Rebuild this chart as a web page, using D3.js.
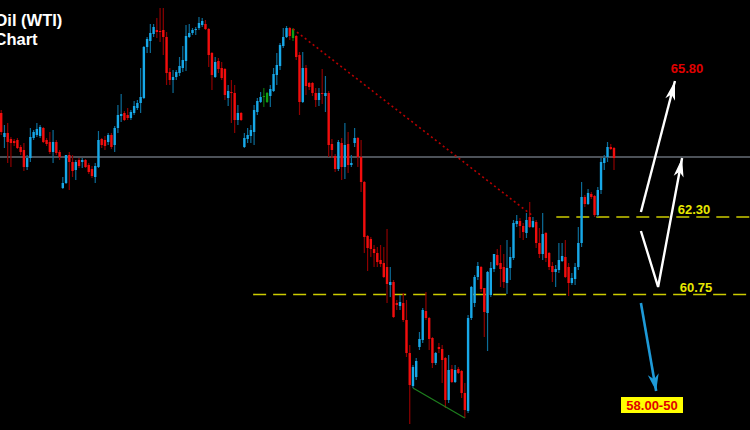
<!DOCTYPE html>
<html><head><meta charset="utf-8">
<script src="https://cdn.jsdelivr.net/npm/d3@7"></script>
<style>html,body{margin:0;padding:0;background:#000;overflow:hidden}</style>
</head><body><svg id="c" width="750" height="430"></svg>
<script>
const opens = [64.38,63.90,63.98,63.86,63.82,63.84,63.70,63.64,63.30,63.48,
63.88,63.94,63.92,64.08,63.84,63.80,63.60,63.80,63.60,62.88,
62.98,63.54,63.40,63.24,63.44,63.40,63.44,63.34,63.26,63.10,
63.30,63.86,63.84,63.80,63.94,63.74,64.08,64.32,64.38,64.34,
64.28,64.38,64.48,64.58,64.68,65.70,65.82,65.96,66.04,66.02,
66.04,65.90,65.20,65.04,65.10,65.18,65.28,65.42,65.90,65.98,
66.04,66.08,66.14,66.16,66.06,65.58,65.10,65.42,65.28,65.26,
64.68,64.80,64.78,64.24,64.38,63.70,63.86,63.92,64.00,64.40,
64.60,64.70,64.60,64.72,64.82,65.14,65.32,65.72,65.90,66.08,
65.88,65.92,65.54,64.60,65.28,64.98,64.98,64.78,64.64,64.78,
64.72,64.78,63.76,63.52,63.26,63.78,63.30,63.76,63.34,63.78,
63.88,63.50,63.00,61.92,61.86,61.66,61.58,61.44,61.38,61.30,
60.94,61.00,60.58,60.52,60.58,60.24,59.58,58.92,59.10,59.70,
59.84,60.42,60.28,59.88,59.38,59.70,59.66,59.48,58.64,59.26,
59.00,59.26,59.22,58.78,58.42,60.28,60.58,61.10,61.30,60.88,
60.38,60.74,61.26,61.54,61.38,61.30,60.98,61.28,61.48,62.16,
62.22,62.12,61.98,62.30,62.10,62.20,61.78,61.56,61.98,61.58,
61.32,61.20,61.24,61.42,61.50,61.30,60.98,61.06,61.30,61.78,
62.70,62.56,62.76,62.72,62.34,62.84,63.38,63.50,63.70,63.68];
const highs = [64.44,64.14,64.18,63.90,63.86,63.88,63.74,63.78,63.54,64.08,
64.04,64.18,64.14,64.10,63.88,64.00,64.04,63.84,63.64,63.10,
63.54,63.60,63.54,63.44,63.48,63.48,63.46,63.38,63.32,63.38,
64.02,63.88,63.92,63.98,63.98,64.12,64.54,64.76,64.42,64.48,
64.44,64.62,64.64,65.28,65.72,65.90,66.16,66.16,66.28,66.48,
66.48,66.00,65.28,65.24,65.24,65.50,65.72,66.14,66.16,66.08,
66.10,66.30,66.28,66.24,66.08,65.60,65.50,65.48,65.40,65.28,
64.94,65.04,64.94,64.54,64.40,63.98,64.08,64.14,64.54,64.68,
64.80,64.88,64.80,64.94,65.28,65.58,65.78,66.08,66.12,66.10,
66.08,65.94,65.60,65.60,65.34,65.00,65.00,64.88,64.88,65.26,
65.12,64.82,63.86,63.56,63.84,63.88,64.18,64.00,63.54,64.08,
63.90,63.84,63.02,61.94,61.90,61.74,61.70,61.74,61.70,62.06,
61.30,61.04,60.64,60.74,60.78,60.64,59.74,59.34,59.48,60.00,
60.48,60.80,60.30,59.90,59.60,59.78,59.74,59.50,59.54,59.34,
59.34,59.30,59.24,58.98,60.34,60.92,61.14,61.40,61.32,60.88,
61.22,61.40,61.56,61.66,61.74,61.56,61.84,61.70,62.24,62.34,
62.28,62.18,62.38,62.60,62.30,62.24,62.08,62.38,62.00,61.60,
61.40,61.34,61.78,61.78,61.84,61.38,61.18,61.38,62.10,63.00,
62.74,62.86,62.80,62.74,62.90,63.48,63.54,63.80,63.76,63.70];
const lows = [63.94,63.68,63.38,63.30,63.72,63.66,63.54,63.22,63.24,63.40,
63.84,63.90,63.88,63.78,63.72,63.56,63.38,63.54,63.44,62.86,
62.96,62.84,63.10,63.04,63.28,63.28,63.28,63.16,63.08,62.98,
63.28,63.68,63.64,63.74,63.66,63.60,63.98,64.20,64.22,64.24,
64.24,64.34,64.44,64.38,64.66,65.58,65.58,65.90,65.88,65.80,
65.54,64.94,64.94,64.78,65.04,65.12,65.20,65.22,65.88,65.94,
65.94,66.04,66.10,66.04,65.30,64.84,65.08,65.18,65.04,64.64,
64.52,64.18,63.98,64.14,64.22,63.68,63.78,63.78,63.74,64.34,
64.58,64.50,64.58,64.50,64.80,64.94,65.24,65.68,65.88,65.84,
65.82,65.44,64.34,64.58,64.74,64.84,64.72,64.50,64.52,64.56,
64.40,63.50,63.48,63.20,63.22,63.04,63.06,63.18,63.30,63.70,
63.30,62.80,61.58,61.22,61.50,61.30,61.30,61.30,61.08,60.58,
60.70,60.28,60.44,60.44,60.20,59.50,58.16,58.88,59.04,59.64,
59.78,60.24,59.64,59.28,59.34,59.58,58.98,58.48,58.58,58.98,
58.98,59.16,58.68,58.28,58.38,60.24,60.50,61.04,60.80,59.90,
59.62,60.70,61.20,61.32,60.90,60.88,60.76,61.04,61.44,62.10,
61.88,61.84,61.88,62.08,62.08,61.68,61.48,61.44,61.40,61.24,
61.00,60.90,61.18,61.40,61.08,60.72,60.94,60.94,61.24,61.70,
62.50,62.54,62.66,62.30,62.30,62.76,63.24,63.40,63.64,63.24];
const closes = [64.00,63.98,63.80,63.78,63.78,63.68,63.60,63.30,63.48,63.90,
64.00,64.06,64.10,63.80,63.76,63.60,63.80,63.58,63.50,62.98,
63.54,63.40,63.22,63.40,63.32,63.44,63.30,63.20,63.12,63.32,
63.84,63.74,63.72,63.94,63.70,64.08,64.34,64.36,64.24,64.28,
64.40,64.52,64.58,64.70,65.70,65.86,65.98,66.10,66.00,66.00,
65.90,65.18,65.04,65.10,65.20,65.32,65.44,65.92,65.98,66.04,
66.06,66.18,66.22,66.06,65.54,65.14,65.40,65.26,65.08,64.74,
64.82,64.78,64.24,64.38,64.24,63.88,63.94,64.04,64.44,64.62,
64.70,64.72,64.78,64.86,65.16,65.34,65.74,65.90,66.08,65.92,
66.06,65.50,64.60,65.28,64.92,64.90,64.78,64.64,64.78,64.76,
64.78,63.74,63.64,63.26,63.80,63.30,63.74,63.34,63.38,63.88,
63.50,63.00,61.90,61.68,61.66,61.58,61.40,61.36,61.10,60.96,
61.00,60.30,60.54,60.60,60.24,59.58,58.94,59.30,59.42,59.86,
60.44,60.28,59.86,59.38,59.58,59.66,59.44,58.64,59.24,59.00,
59.24,59.18,58.78,58.44,60.28,60.90,61.10,61.32,60.86,60.40,
61.20,61.28,61.56,61.34,61.26,61.00,61.28,61.50,62.18,62.22,
62.12,62.00,62.24,62.10,62.22,61.78,61.56,61.96,61.48,61.30,
61.20,61.26,61.44,61.52,61.10,60.98,61.08,61.30,61.78,62.70,
62.56,62.78,62.70,62.34,62.84,63.40,63.48,63.70,63.66,63.48];
const greenBars = [81, 82, 90];
const currentPrice = 63.50;
const levelUpper = 62.30;
const levelLower = 60.75;
const targetText = "65.80";
const upperText = "62.30";
const lowerText = "60.75";
const downTargetText = "58.00-50";
const titleLines = ["Oil (WTI)", "Chart"];

const W = 750, H = 430;
const svg = d3.select("#c");
svg.append("rect").attr("width", W).attr("height", H).attr("fill", "#000");

const n = closes.length;
const x = d3.scaleLinear().domain([0, n - 1]).range([1.2, 614]);
const y = d3.scaleLinear().domain([66.64, 58.04]).range([0, 430]);
const bw = 2.4;

const defs = svg.append("defs");
function marker(id, color, len, half) {
  defs.append("marker").attr("id", id)
    .attr("markerUnits", "userSpaceOnUse")
    .attr("viewBox", `${-len - 1} ${-half - 1} ${len + 2} ${2 * half + 2}`)
    .attr("refX", 0).attr("refY", 0)
    .attr("markerWidth", len + 2).attr("markerHeight", 2 * half + 2)
    .attr("orient", "auto")
    .append("path")
    .attr("d", `M0,0 L${-len},${-half} L${-len + 5},0 L${-len},${half} Z`)
    .attr("fill", color);
}
marker("wh", "#ffffff", 19, 5);
marker("bl", "#1e9ad8", 17, 5.5);

// current price line
svg.append("line").attr("x1", 0).attr("x2", W)
  .attr("y1", y(currentPrice)).attr("y2", y(currentPrice))
  .attr("stroke", "#4c5158").attr("stroke-width", 2);

// dashed level lines
svg.append("line").attr("x1", x(171.2)).attr("x2", W)
  .attr("y1", y(levelUpper)).attr("y2", y(levelUpper))
  .attr("stroke", "#cccc00").attr("stroke-width", 1.6).attr("stroke-dasharray", "13,7");
svg.append("line").attr("x1", x(77.7)).attr("x2", W)
  .attr("y1", y(levelLower)).attr("y2", y(levelLower))
  .attr("stroke", "#cccc00").attr("stroke-width", 1.6).attr("stroke-dasharray", "13,7");

// candles
const idx = d3.range(n);
const isUp = i => closes[i] >= opens[i];
const bodyCol = i => greenBars.includes(i) ? "#11a011" : (isUp(i) ? "#17a8e8" : "#f20d0d");
const wickCol = i => greenBars.includes(i) ? "#0b6e0b" : (isUp(i) ? "#0c6c98" : "#8e0000");
const g = svg.append("g");
g.selectAll("line.w").data(idx).join("line").attr("class", "w")
  .attr("x1", i => x(i)).attr("x2", i => x(i))
  .attr("y1", i => y(highs[i])).attr("y2", i => y(lows[i]))
  .attr("stroke", wickCol).attr("stroke-width", 1.2);
g.selectAll("rect.b").data(idx).join("rect").attr("class", "b")
  .attr("x", i => x(i) - bw / 2).attr("width", bw)
  .attr("y", i => y(Math.max(opens[i], closes[i])))
  .attr("height", i => Math.max(1, y(Math.min(opens[i], closes[i])) - y(Math.max(opens[i], closes[i]))))
  .attr("fill", bodyCol);

// red dotted trendline from swing high
svg.append("line").attr("x1", x(90)).attr("y1", y(highs[90] - 0.02))
  .attr("x2", x(164)).attr("y2", y(62.32))
  .attr("stroke", "#b80000").attr("stroke-width", 1.6).attr("stroke-dasharray", "2,3");

// green support line through lows
svg.append("line").attr("x1", x(127)).attr("y1", y(lows[127]))
  .attr("x2", x(143)).attr("y2", y(lows[143]))
  .attr("stroke", "#1d7d1d").attr("stroke-width", 1.3);

// arrows
const line = d3.line().x(d => x(d[0])).y(d => y(d[1]));
svg.append("path").attr("d", line([[197.3, 62.40], [207.8, 65.02]]))
  .attr("fill", "none").attr("stroke", "#fff").attr("stroke-width", 2.4).attr("marker-end", "url(#wh)");
svg.append("path").attr("d", line([[197.3, 62.02], [202.6, 60.90], [210.0, 63.48]]))
  .attr("fill", "none").attr("stroke", "#fff").attr("stroke-width", 2.4).attr("stroke-linejoin", "miter").attr("marker-end", "url(#wh)");
svg.append("path").attr("d", line([[197.3, 60.58], [202.0, 58.82]]))
  .attr("fill", "none").attr("stroke", "#1e9ad8").attr("stroke-width", 2.6).attr("marker-end", "url(#bl)");

// labels
const font = "'Liberation Sans', Arial, sans-serif";
svg.append("text").attr("x", x(211.5)).attr("y", y(65.18)).attr("text-anchor", "middle")
  .attr("font-family", font).attr("font-weight", "bold").attr("font-size", 13)
  .attr("fill", "#e00000").text(targetText);
svg.append("text").attr("x", 694).attr("y", y(levelUpper) - 3).attr("text-anchor", "middle")
  .attr("font-family", font).attr("font-weight", "bold").attr("font-size", 13)
  .attr("fill", "#e8e800").text(upperText);
svg.append("text").attr("x", 696).attr("y", y(levelLower) - 3).attr("text-anchor", "middle")
  .attr("font-family", font).attr("font-weight", "bold").attr("font-size", 13)
  .attr("fill", "#e8e800").text(lowerText);
svg.append("rect").attr("x", 621).attr("y", 397).attr("width", 62).attr("height", 16).attr("fill", "#ffff00");
svg.append("text").attr("x", 652).attr("y", 410).attr("text-anchor", "middle")
  .attr("font-family", font).attr("font-weight", "bold").attr("font-size", 13)
  .attr("fill", "#e00000").text(downTargetText);

// title (cropped at left edge, as in the reference)
svg.append("text").attr("x", -5.5).attr("y", 26)
  .attr("font-family", font).attr("font-weight", "bold").attr("font-size", 16.5)
  .attr("fill", "#fff").text(titleLines[0]);
svg.append("text").attr("x", -5.5).attr("y", 45)
  .attr("font-family", font).attr("font-weight", "bold").attr("font-size", 16.5)
  .attr("fill", "#fff").text(titleLines[1]);
</script></body></html>
